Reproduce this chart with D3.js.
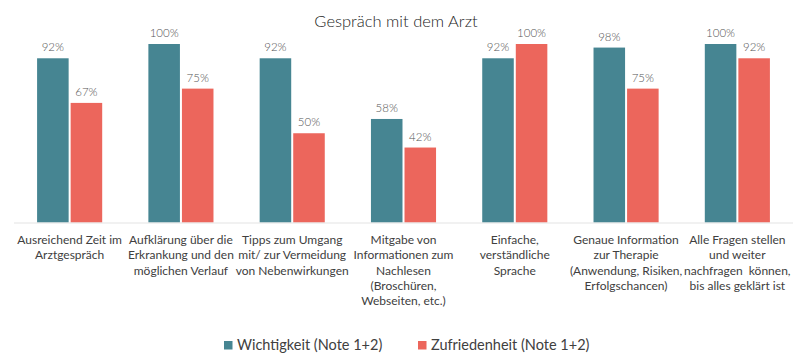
<!DOCTYPE html>
<html>
<head>
<meta charset="utf-8">
<script src="https://cdn.jsdelivr.net/npm/d3@7"></script>
<style>
  body { margin: 0; background: #fff; }
  svg { display: block; font-family: "Source Sans Pro", Lato, "Open Sans", sans-serif; }
  text { white-space: pre; }
</style>
</head>
<body>
<svg id="chart" width="800" height="359"></svg>
<script>
// categories (line breaks as in the picture)
var categories = [
  ["Ausreichend Zeit im", "Arztgespräch"],
  ["Aufklärung über die", "Erkrankung und den", "möglichen Verlauf"],
  ["Tipps zum Umgang", "mit/ zur Vermeidung", "von Nebenwirkungen"],
  ["Mitgabe von", "Informationen zum", "Nachlesen", "(Broschüren,", "Webseiten, etc.)"],
  ["Einfache,", "verständliche", "Sprache"],
  ["Genaue Information", "zur Therapie", "(Anwendung, Risiken,", "Erfolgschancen)"],
  ["Alle Fragen stellen", "und weiter", "nachfragen  können,", "bis alles geklärt ist"]
];
var seriesNames = ["Wichtigkeit (Note 1+2)", "Zufriedenheit (Note 1+2)"];
var wichtigkeit = [92, 100, 92, 58, 92, 98, 100];
var zufriedenheit = [67, 75, 50, 42, 100, 75, 92];
var colors = ["#468592", "#ec665c"];

var svg = d3.select("#chart");
var baseY = 222.5, topY = 44;

var idx = d3.range(categories.length);
var x0 = d3.scaleBand().domain(idx).range([14, 793]).paddingInner(0.415).paddingOuter(0.2075);
var x1 = d3.scaleBand().domain([0, 1]).range([0, x0.bandwidth()]).paddingInner(0.06);
var y = d3.scaleLinear().domain([0, 100]).range([baseY, topY]);

var series = [wichtigkeit, zufriedenheit];

// title
svg.append("text")
  .attr("x", 396).attr("y", 27)
  .attr("text-anchor", "middle")
  .style("font-size", "16.5px").style("font-weight", 300).style("fill", "#222")
  .text("Gespräch mit dem Arzt");

// bars
series.forEach(function(vals, s) {
  svg.selectAll(".bar" + s)
    .data(vals)
    .enter().append("rect")
      .attr("x", function(d, i) { return x0(i) + x1(s); })
      .attr("y", function(d) { return y(d); })
      .attr("width", x1.bandwidth())
      .attr("height", function(d) { return baseY - y(d); })
      .style("fill", colors[s]);

  svg.selectAll(".lab" + s)
    .data(vals)
    .enter().append("text")
      .attr("x", function(d, i) { return x0(i) + x1(s) + x1.bandwidth() / 2; })
      .attr("y", function(d) { return y(d) - 7; })
      .attr("text-anchor", "middle")
      .style("font-size", "11.5px").style("font-weight", 300).style("fill", "#555")
      .text(function(d) { return d + "%"; });
});

// axis line
svg.append("line")
  .attr("x1", 14).attr("x2", 793)
  .attr("y1", baseY + 0.5).attr("y2", baseY + 0.5)
  .style("stroke", "#e3e3e3").style("stroke-width", 1);

// category labels
var cat = svg.selectAll(".cat")
  .data(categories)
  .enter().append("text")
    .attr("text-anchor", "middle")
    .style("font-size", "12px").style("fill", "#404040");
cat.each(function(lines, i) {
  var t = d3.select(this);
  lines.forEach(function(l, k) {
    t.append("tspan")
      .attr("x", x0(i) + x0.bandwidth() / 2)
      .attr("y", 244 + k * 15.3)
      .text(l);
  });
});

// legend
var legendX = [224, 418];
seriesNames.forEach(function(name, s) {
  svg.append("rect")
    .attr("x", legendX[s]).attr("y", 341)
    .attr("width", 8.5).attr("height", 8.5)
    .style("fill", colors[s]);
  svg.append("text")
    .attr("x", legendX[s] + 13).attr("y", 350)
    .style("font-size", "14.5px").style("fill", "#404040")
    .text(name);
});
</script>
</body>
</html>
